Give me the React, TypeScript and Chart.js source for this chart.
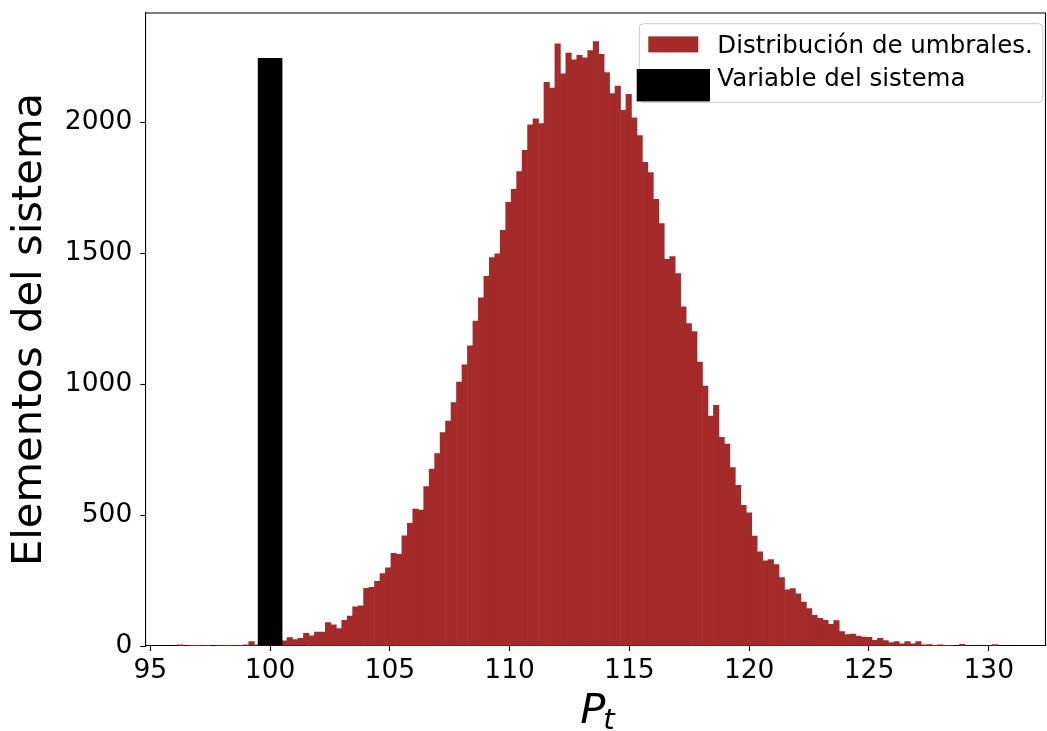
import React, { useEffect, useRef } from "react";
import { Chart, registerables } from "chart.js";

Chart.register(...registerables);

// ---- data ----
const BIN_START = 96.144;
const BIN_WIDTH = 0.2282;
const binCounts = [
  4, 0, 3, 3, 2, 3, 0, 2, 3, 3,
  2, 3, 4, 17, 4, 8, 10, 12, 15, 20,
  32, 25, 29, 48, 39, 53, 53, 89, 81, 67,
  98, 114, 150, 153, 220, 224, 247, 277, 299, 354,
  350, 421, 469, 523, 519, 609, 676, 735, 815, 859,
  930, 1008, 1074, 1147, 1241, 1330, 1412, 1484, 1498, 1588,
  1695, 1744, 1812, 1893, 1991, 2014, 1996, 2153, 2131, 2300,
  2186, 2265, 2239, 2256, 2247, 2274, 2309, 2260, 2190, 2110,
  2139, 2046, 2107, 2018, 1950, 1848, 1808, 1706, 1614, 1477,
  1488, 1423, 1296, 1232, 1201, 1085, 993, 878, 919, 797,
  771, 682, 614, 537, 509, 420, 360, 325, 330, 311,
  261, 215, 219, 199, 168, 143, 117, 106, 98, 83,
  97, 55, 44, 46, 38, 34, 33, 22, 29, 21,
  13, 17, 8, 17, 8, 17, 4, 5, 3, 4,
  3, 2, 0, 6, 0, 0, 0, 0, 0, 5,
];
const systemPosition = [100];
const systemCount = [2245];
const systemWidth = [1];
const xTicks = [95, 100, 105, 110, 115, 120, 125, 130];
const yTicks = [0, 500, 1000, 1500, 2000];
const xRange = [94.79, 132.37];
const yRange = [0, 2418];
const legendLabels = ["Distribución de umbrales.", "Variable del sistema"];
const yTitle = "Elementos del sistema";
const xTitleMain = "P";
const xTitleSub = "t";
const histColor = "#a52a2a";
const systemColor = "#000000";

const FONT = "'DejaVu Sans', sans-serif";

const framePlugin = {
  id: "frame",
  afterDraw(chart: any) {
    const { ctx, chartArea: ca } = chart;
    ctx.save();
    // top & right spines
    ctx.strokeStyle = "#000";
    ctx.lineWidth = 1.1;
    ctx.beginPath();
    ctx.moveTo(ca.left, ca.top);
    ctx.lineTo(ca.right, ca.top);
    ctx.lineTo(ca.right, ca.bottom);
    ctx.stroke();

    // x title: italic P with subscript t
    const cx = (ca.left + ca.right) / 2 + 3;
    ctx.fillStyle = "#000";
    ctx.textBaseline = "alphabetic";
    ctx.font = `italic 41.7px ${FONT}`;
    const wP = ctx.measureText(xTitleMain).width;
    ctx.font = `italic 29px ${FONT}`;
    const wT = ctx.measureText(xTitleSub).width;
    const startX = cx - (wP + wT) / 2;
    ctx.font = `italic 41.7px ${FONT}`;
    ctx.fillText(xTitleMain, startX, ca.bottom + 77);
    ctx.font = `italic 29px ${FONT}`;
    ctx.fillText(xTitleSub, startX + wP - 2, ca.bottom + 83);

    // legend
    const bl = ca.right - 406.2;
    const bt = ca.top + 10.7;
    const bw = 403.4;
    const bh = 78.7;
    ctx.fillStyle = "rgba(255,255,255,0.8)";
    ctx.strokeStyle = "#cccccc";
    ctx.lineWidth = 1;
    ctx.beginPath();
    (ctx as any).roundRect(bl, bt, bw, bh, 4);
    ctx.fill();
    ctx.stroke();

    ctx.fillStyle = histColor;
    ctx.fillRect(bl + 9, bt + 12.7, 50, 16);
    ctx.fillStyle = systemColor;
    ctx.fillRect(bl - 2.6, bt + 45.3, 73.3, 32.4);

    ctx.fillStyle = "#000";
    ctx.font = `24.5px ${FONT}`;
    ctx.fillText(legendLabels[0], bl + 78, bt + 29.3);
    ctx.fillText(legendLabels[1], bl + 78, bt + 62.5);
    ctx.restore();
  },
};

export default function App() {
  const ref = useRef<HTMLCanvasElement | null>(null);

  useEffect(() => {
    if (!ref.current) return;
    Chart.defaults.color = "#000";
    const histData = binCounts.map((c, i) => ({
      x: BIN_START + (i + 0.5) * BIN_WIDTH,
      y: c,
    }));
    const systemData = [
      { x: systemPosition[0], y: systemCount[0] },
      { x: systemPosition[0] + systemWidth[0], y: 0 },
    ];
    const gridOpts = {
      display: true,
      offset: false,
      drawOnChartArea: false,
      drawTicks: true,
      tickLength: 5,
      tickColor: "#000",
      tickWidth: 1.1,
    };
    const chart = new Chart(ref.current, {
      type: "bar",
      data: {
        datasets: [
          {
            label: legendLabels[1],
            data: systemData as any,
            backgroundColor: systemColor,
            borderWidth: 0,
            barPercentage: 1,
            categoryPercentage: 1,
            grouped: false,
            xAxisID: "x2",
            yAxisID: "y",
          } as any,
          {
            label: legendLabels[0],
            data: histData as any,
            backgroundColor: histColor,
            borderWidth: 0,
            barPercentage: 1,
            categoryPercentage: 1,
            grouped: false,
            xAxisID: "x",
            yAxisID: "y",
          } as any,
        ],
      },
      options: {
        animation: false,
        responsive: true,
        maintainAspectRatio: false,
        layout: { padding: { top: 13, right: 1.5, left: 0, bottom: 0 } },
        plugins: {
          legend: { display: false },
          tooltip: { enabled: false },
        },
        scales: {
          x: {
            type: "linear",
            position: "bottom",
            min: xRange[0],
            max: xRange[1],
            offset: false,
            afterFit: (s: any) => {
              s.height = 85;
              s.paddingLeft = 0;
              s.paddingRight = 0;
            },
            afterBuildTicks: (s: any) => {
              s.ticks = xTicks.map((v) => ({ value: v }));
            },
            ticks: {
              autoSkip: false,
              maxRotation: 0,
              padding: 4,
              color: "#000",
              font: { family: FONT, size: 26.5 },
              callback: (v: any) => String(v),
            },
            grid: gridOpts,
            border: { display: true, color: "#000", width: 1.1 },
          },
          x2: {
            type: "linear",
            display: false,
            min: xRange[0],
            max: xRange[1],
            offset: false,
          },
          y: {
            type: "linear",
            min: yRange[0],
            max: yRange[1],
            afterFit: (s: any) => {
              s.width = 145.3;
              s.paddingTop = 0;
              s.paddingBottom = 0;
            },
            afterBuildTicks: (s: any) => {
              s.ticks = yTicks.map((v) => ({ value: v }));
            },
            ticks: {
              autoSkip: false,
              padding: 8,
              color: "#000",
              font: { family: FONT, size: 26.5 },
              callback: (v: any) => String(v),
            },
            grid: gridOpts,
            border: { display: true, color: "#000", width: 1.1 },
            title: {
              display: true,
              text: yTitle,
              color: "#000",
              font: { family: FONT, size: 41.7 },
              padding: { top: 5, bottom: 0 },
            },
          },
        },
      } as any,
      plugins: [framePlugin],
    });
    return () => chart.destroy();
  }, []);

  return (
    <div
      style={{
        position: "fixed",
        left: 0,
        top: 0,
        width: 1047,
        height: 731,
        background: "#fff",
      }}
    >
      <canvas ref={ref} />
    </div>
  );
}
